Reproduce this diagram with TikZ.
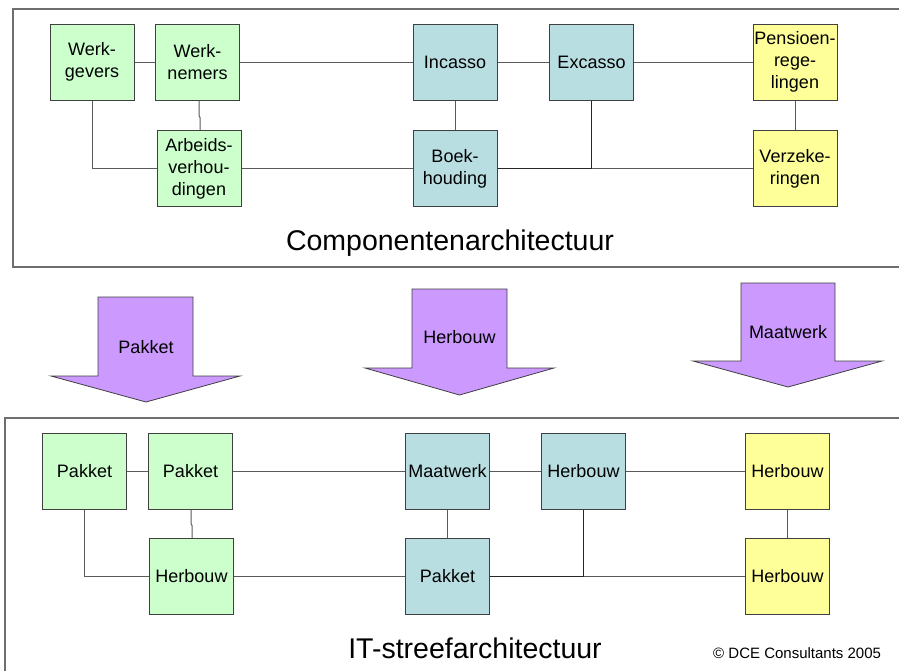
\documentclass[tikz,border=0pt]{standalone}
\usepackage{fontspec}
\setmainfont{Liberation Sans}
\definecolor{boxgreen}{HTML}{CCFFCC}
\definecolor{boxblue}{HTML}{B8DEE2}
\definecolor{boxyellow}{HTML}{FFFF99}
\definecolor{arrpurple}{HTML}{CC99FF}
\definecolor{edgegray}{HTML}{404040}
\definecolor{linegray}{HTML}{5A5A5A}
\definecolor{framegray}{HTML}{6E6E6E}
\begin{document}
\begin{tikzpicture}[x=1pt,y=-1pt,
  comp/.style={draw=edgegray, line width=1pt, minimum width=84pt, minimum height=76pt,
    inner sep=0pt, align=center, font=\fontsize{18}{22}\selectfont},
  gbox/.style={comp, fill=boxgreen},
  bbox/.style={comp, fill=boxblue},
  ybox/.style={comp, fill=boxyellow},
  conn/.style={draw=linegray, line width=1pt},
  connd/.style={draw=black!85, line width=1.4pt},
  frame/.style={draw=framegray, line width=1.3pt},
  bigarrow/.style={fill=arrpurple, draw=edgegray, line width=0.8pt, line join=miter},
  arrlabel/.style={font=\fontsize{18}{22}\selectfont, inner sep=0pt},
  title/.style={font=\fontsize{28.5}{34}\selectfont, inner sep=0pt, anchor=base}
]
\useasboundingbox (0,0) rectangle (899,670);
\clip (0,0) rectangle (899,670);
\fill[white] (0,0) rectangle (899,670);

% ---------- top frame ----------
\draw[frame] (905,9) -- (13,9) -- (13,267) -- (905,267);

% top components
\node[gbox] (wg)   at (92,62)     {Werk-\\gevers};
\node[gbox] (wn)   at (197.5,62)  {Werk-\\nemers};
\node[gbox] (ar)   at (199,168.5) {Arbeids-\\verhou-\\dingen};
\node[bbox] (inc)  at (455,62)    {Incasso};
\node[bbox] (boek) at (455,168.5) {Boek-\\houding};
\node[bbox] (exc)  at (591.5,62)  {Excasso};
\node[ybox] (pen)  at (795,62)    {Pensioen-\\rege-\\lingen};
\node[ybox] (verz) at (795,168.5) {Verzeke-\\ringen};

% top connectors
\draw[conn] (wg) -- (wn);
\draw[conn] (wn) -- (inc);
\draw[conn] (inc) -- (exc);
\draw[conn] (exc) -- (pen);
\draw[conn] ([xshift=1.5pt]wn.south) -- ++(0,15) -- ++(1,2) -- ([xshift=1pt]ar.north);
\draw[conn] (wg.south) |- (ar.west);
\draw[conn] (ar) -- (boek);
\draw[conn] (inc) -- (boek);
\draw[conn] (boek.east) -- (verz.west);
\draw[connd] (exc.south) |- (boek.east);
\draw[conn] (pen) -- (verz);

\node[title] (t1) at (450,250) {Componentenarchitectuur};

% ---------- arrows ----------
\draw[bigarrow] (98,297) -- (193,297) -- (193,376) -- (240,376) -- (146,402) -- (51,376) -- (98,376) -- cycle;
\node[arrlabel] (a1) at (146,347) {Pakket};
\draw[bigarrow] (412,289) -- (507,289) -- (507,368) -- (554,368) -- (459.5,395) -- (365,368) -- (412,368) -- cycle;
\node[arrlabel] (a2) at (459.5,337) {Herbouw};
\draw[bigarrow] (741,283) -- (835,283) -- (835,361) -- (882,361) -- (788,387) -- (693,361) -- (741,361) -- cycle;
\node[arrlabel] (a3) at (788,332) {Maatwerk};

% ---------- bottom frame ----------
\draw[frame] (905,418) -- (5,418) -- (5,680);

% bottom components
\node[gbox] (p1)  at (84.5,471)   {Pakket};
\node[gbox] (p2)  at (190.5,471)  {Pakket};
\node[gbox] (hb)  at (191.5,576.5){Herbouw};
\node[bbox] (mw)  at (447.5,471)  {Maatwerk};
\node[bbox] (pk)  at (447.5,576.5){Pakket};
\node[bbox] (hb2) at (583.5,471)  {Herbouw};
\node[ybox] (y1)  at (787.5,471)  {Herbouw};
\node[ybox] (y2)  at (787.5,576.5){Herbouw};

% bottom connectors
\draw[conn] (p1) -- (p2);
\draw[conn] (p2) -- (mw);
\draw[conn] (mw) -- (hb2);
\draw[conn] (hb2) -- (y1);
\draw[conn] ([xshift=0.5pt]p2.south) -- ++(0,14) -- ++(1,2) -- ([xshift=0.5pt]hb.north);
\draw[conn] (p1.south) |- (hb.west);
\draw[conn] (hb) -- (pk);
\draw[conn] (mw) -- (pk);
\draw[conn] (pk.east) -- (y2.west);
\draw[connd] (hb2.south) |- (pk.east);
\draw[conn] (y1) -- (y2);

\node[title] (t2) at (475,658) {IT-streefarchitectuur};
\node[font=\fontsize{15}{18}\selectfont, inner sep=0pt, anchor=base west] (copy) at (713,658) {© DCE Consultants 2005};
\end{tikzpicture}
\end{document}
